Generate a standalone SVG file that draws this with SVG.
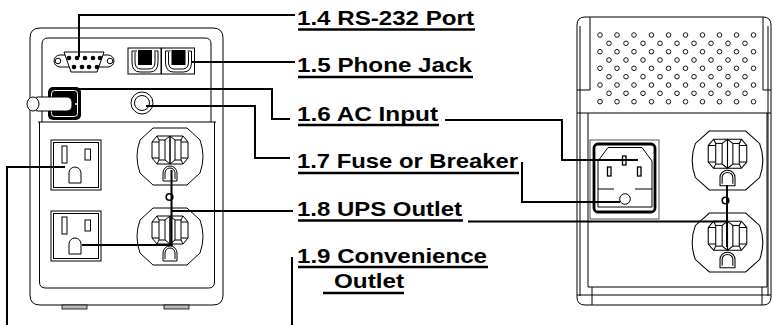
<svg xmlns="http://www.w3.org/2000/svg" xmlns:xlink="http://www.w3.org/1999/xlink" width="773" height="325" viewBox="0 0 773 325">
<style>
.l{fill:none;stroke:#000;stroke-width:1}
.lw{fill:#fff;stroke:#000;stroke-width:1}
.c{fill:none;stroke:#000;stroke-width:2}
.u{stroke:#000;stroke-width:2.5}
.t{font-family:"Liberation Sans",Arial,sans-serif;font-weight:bold;font-size:20px;fill:#000}
.v{fill:none;stroke:#000;stroke-width:0.9}
</style>
<defs>
<g id="duplex">
<path class="lw" d="M-17,0 H17 L30,12 Q36,28.5 30,45 L17,57 H-17 L-30,45 Q-36,28.5 -30,12 Z"/>
<g id="slot">
<path class="l" d="M0,8 H-13 L-18,14 V30 L-13,36 H0 Z"/>
<rect class="l" x="-11" y="12" width="6" height="20"/>
<path class="l" d="M-13,8 L-11,12 M0,8 L-5,12 M-13,36 L-11,32 M0,36 L-5,32 M-18,14 L-11,14 M-18,30 L-11,30"/>
</g>
<use xlink:href="#slot" transform="scale(-1,1)"/>
<path class="l" d="M-7,53 V45 A7,7 0 0 1 7,45 V53 Z M-5,51 V45 A5,5 0 0 1 5,45 V51"/>
</g>
<g id="conv">
<rect class="lw" x="0" y="0" width="50" height="50" stroke-width="1.5"/>
<rect class="l" x="2.5" y="2.5" width="45" height="45"/>
<rect class="l" x="11" y="6" width="5" height="17" stroke-width="1.5"/>
<rect class="l" x="34" y="9" width="5.5" height="11" stroke-width="1.5"/>
<path class="l" stroke-width="1.5" d="M18,43 V33 A6,6 0 0 1 30,33 V43 Z"/>
</g>
<g id="jack">
<rect class="l" x="0" y="0" width="33" height="26" stroke-width="1.2"/>
<rect x="10" y="2" width="14" height="15" fill="#000"/>
<path class="l" d="M4,3 V14 Q4,24 12,24 H22 Q30,24 30,14 V3 H26 M9,3 H4 M7,4 V14 Q7,21 13,21 H21 Q27,21 27,14 V4"/>
</g>
</defs>

<g id="left-unit">
<path class="l" stroke-width="1.2" d="M40,28 H213 Q223,28 223,38 V295 Q223,305 213,305 H40 Q30,305 30,295 V38 Q30,28 40,28 Z"/>
<path class="l" d="M42,122 V44 Q42,38 48,38 H205 Q211,38 211,44 V122"/>
<path class="l" d="M38,122 H216"/>
<path class="l" d="M39.5,122 V282 Q39.5,288 45.5,288 H208.5 Q214.5,288 214.5,282 V122"/>
<rect x="62" y="305" width="25" height="4" fill="#bbb" stroke="#000" stroke-width="0.8"/>
<rect x="164" y="305" width="25" height="4" fill="#bbb" stroke="#000" stroke-width="0.8"/>
</g>

<g id="db9">
<path class="lw" d="M60,55 H108 A6,6 0 0 1 108,67 H60 A6,6 0 0 1 60,55 Z"/>
<circle class="l" cx="58" cy="61" r="2.8"/>
<circle class="l" cx="110" cy="61" r="2.8"/>
<path class="lw" d="M64,52 H104 L97,72 H71 Z"/>
<g fill="#000">
<circle cx="69" cy="58" r="2.3"/><circle cx="77" cy="58" r="2.3"/><circle cx="85" cy="58" r="2.3"/><circle cx="93" cy="58" r="2.3"/><circle cx="100" cy="58" r="2.3"/>
<circle cx="74" cy="67" r="2.3"/><circle cx="82" cy="67" r="2.3"/><circle cx="89" cy="67" r="2.3"/><circle cx="97" cy="67" r="2.3"/>
</g>
</g>

<g id="phone-jacks">
<use xlink:href="#jack" transform="translate(128,48)"/>
<use xlink:href="#jack" transform="translate(161.5,48)"/>
</g>

<g id="ac-input-left">
<rect x="48" y="87" width="33" height="33" rx="5" fill="#000"/>
<rect x="51.5" y="90.5" width="26" height="26" rx="3" fill="none" stroke="#fff" stroke-width="1"/>
<rect class="lw" x="33" y="97" width="39" height="14" rx="5" stroke-width="1.2"/>
<ellipse class="lw" cx="33" cy="104" rx="6" ry="7" stroke-width="1.2"/>
<path d="M75,104 H78" stroke="#fff" stroke-width="1.5"/>
</g>

<g id="fuse-left">
<circle class="lw" cx="142" cy="103" r="11" stroke-width="1.8"/>
<circle class="l" cx="142" cy="103" r="7.5" stroke-width="1.2"/>
</g>

<g id="conv-outlets">
<use xlink:href="#conv" transform="translate(51,140)"/>
<use xlink:href="#conv" transform="translate(51,211)"/>
</g>

<g id="ups-outlets-left">
<use xlink:href="#duplex" transform="translate(170,128)"/>
<use xlink:href="#duplex" transform="translate(170,208)"/>
<circle cx="169.5" cy="197" r="3.3" fill="#fff" stroke="#000" stroke-width="1.6"/>
</g>

<g id="right-unit">
<path class="l" stroke-width="1.2" d="M585,17 H763 Q771,17 771,25 V297 Q771,305 763,305 H585 Q577,305 577,297 V25 Q577,17 585,17 Z"/>
<path class="l" d="M580,26 V296 M768,26 V296"/>
<path class="l" d="M590,17 V90 H577 M763,17 V90 H771"/>
<path class="l" d="M577,113 H771"/>
<path class="l" d="M588,113 V287 H767 V113"/>
<path class="l" d="M577,295 H771 M592,287 V305 M762,287 V305"/>
<g class="v">
<circle cx="600" cy="35" r="2.3"/><circle cx="617" cy="35" r="2.3"/><circle cx="634" cy="35" r="2.3"/><circle cx="651.5" cy="35" r="2.3"/><circle cx="668.5" cy="35" r="2.3"/><circle cx="685.5" cy="35" r="2.3"/><circle cx="702.5" cy="35" r="2.3"/><circle cx="719.5" cy="35" r="2.3"/><circle cx="736.5" cy="35" r="2.3"/><circle cx="753.5" cy="35" r="2.3"/>
<circle cx="609" cy="43.3" r="2.3"/><circle cx="626" cy="43.3" r="2.3"/><circle cx="643" cy="43.3" r="2.3"/><circle cx="660" cy="43.3" r="2.3"/><circle cx="677" cy="43.3" r="2.3"/><circle cx="694" cy="43.3" r="2.3"/><circle cx="711" cy="43.3" r="2.3"/><circle cx="728" cy="43.3" r="2.3"/><circle cx="745" cy="43.3" r="2.3"/>
<circle cx="600" cy="51.7" r="2.3"/><circle cx="617" cy="51.7" r="2.3"/><circle cx="634" cy="51.7" r="2.3"/><circle cx="651.5" cy="51.7" r="2.3"/><circle cx="668.5" cy="51.7" r="2.3"/><circle cx="685.5" cy="51.7" r="2.3"/><circle cx="702.5" cy="51.7" r="2.3"/><circle cx="719.5" cy="51.7" r="2.3"/><circle cx="736.5" cy="51.7" r="2.3"/><circle cx="753.5" cy="51.7" r="2.3"/>
<circle cx="609" cy="60" r="2.3"/><circle cx="626" cy="60" r="2.3"/><circle cx="643" cy="60" r="2.3"/><circle cx="660" cy="60" r="2.3"/><circle cx="677" cy="60" r="2.3"/><circle cx="694" cy="60" r="2.3"/><circle cx="711" cy="60" r="2.3"/><circle cx="728" cy="60" r="2.3"/><circle cx="745" cy="60" r="2.3"/>
<circle cx="600" cy="68.3" r="2.3"/><circle cx="617" cy="68.3" r="2.3"/><circle cx="634" cy="68.3" r="2.3"/><circle cx="651.5" cy="68.3" r="2.3"/><circle cx="668.5" cy="68.3" r="2.3"/><circle cx="685.5" cy="68.3" r="2.3"/><circle cx="702.5" cy="68.3" r="2.3"/><circle cx="719.5" cy="68.3" r="2.3"/><circle cx="736.5" cy="68.3" r="2.3"/><circle cx="753.5" cy="68.3" r="2.3"/>
<circle cx="609" cy="76.7" r="2.3"/><circle cx="626" cy="76.7" r="2.3"/><circle cx="643" cy="76.7" r="2.3"/><circle cx="660" cy="76.7" r="2.3"/><circle cx="677" cy="76.7" r="2.3"/><circle cx="694" cy="76.7" r="2.3"/><circle cx="711" cy="76.7" r="2.3"/><circle cx="728" cy="76.7" r="2.3"/><circle cx="745" cy="76.7" r="2.3"/>
<circle cx="600" cy="85" r="2.3"/><circle cx="617" cy="85" r="2.3"/><circle cx="634" cy="85" r="2.3"/><circle cx="651.5" cy="85" r="2.3"/><circle cx="668.5" cy="85" r="2.3"/><circle cx="685.5" cy="85" r="2.3"/><circle cx="702.5" cy="85" r="2.3"/><circle cx="719.5" cy="85" r="2.3"/><circle cx="736.5" cy="85" r="2.3"/><circle cx="753.5" cy="85" r="2.3"/>
<circle cx="609" cy="93.3" r="2.3"/><circle cx="626" cy="93.3" r="2.3"/><circle cx="643" cy="93.3" r="2.3"/><circle cx="660" cy="93.3" r="2.3"/><circle cx="677" cy="93.3" r="2.3"/><circle cx="694" cy="93.3" r="2.3"/><circle cx="711" cy="93.3" r="2.3"/><circle cx="728" cy="93.3" r="2.3"/><circle cx="745" cy="93.3" r="2.3"/>
<circle cx="600" cy="101.7" r="2.3"/><circle cx="617" cy="101.7" r="2.3"/><circle cx="634" cy="101.7" r="2.3"/><circle cx="651.5" cy="101.7" r="2.3"/><circle cx="668.5" cy="101.7" r="2.3"/><circle cx="685.5" cy="101.7" r="2.3"/><circle cx="702.5" cy="101.7" r="2.3"/><circle cx="719.5" cy="101.7" r="2.3"/><circle cx="736.5" cy="101.7" r="2.3"/><circle cx="753.5" cy="101.7" r="2.3"/>
</g>
</g>

<g id="ac-inlet-right">
<rect x="590" y="140" width="69" height="79" fill="#fff" stroke="#555" stroke-width="1"/>
<rect x="594" y="144" width="61" height="68" rx="4" fill="none" stroke="#000" stroke-width="2.8"/>
<path class="l" d="M614,189 H598 V161 L608,147.5 H642 L652,161 V189 H635"/>
<path class="l" d="M598,189 V207 H652 V189"/>
<rect x="622.5" y="156" width="3.5" height="9" fill="none" stroke="#000" stroke-width="1.3"/>
<rect x="607.5" y="167" width="3.5" height="9" fill="none" stroke="#000" stroke-width="1.3"/>
<rect x="637.5" y="167" width="3.5" height="9" fill="none" stroke="#000" stroke-width="1.3"/>
<circle class="l" cx="625" cy="199" r="5.3"/>
</g>

<g id="ups-outlets-right">
<use xlink:href="#duplex" transform="translate(727.5,131) scale(1.07,1.035)"/>
<use xlink:href="#duplex" transform="translate(727.5,213) scale(1.07,1.035)"/>
<circle cx="725.5" cy="200.5" r="3.3" fill="#fff" stroke="#000" stroke-width="1.6"/>
</g>

<g id="connectors">
<path class="c" d="M79,57 V15 H295"/>
<path class="c" d="M192,62 H295"/>
<path class="c" d="M79,89 H272 V119 H290"/>
<path class="c" d="M445,120 H562 V160 H638"/>
<path class="c" d="M146,106 H255 V158 H290"/>
<path class="c" d="M522,162 V202 H620"/>
<path class="c" d="M172,211 H293"/>
<path class="c" d="M171.5,170 V246"/>
<path class="c" d="M82,245 H172.5"/>
<path class="c" d="M468,221.5 H727"/>
<path class="c" d="M727,185 V247"/>
<path class="c" d="M292,257 V325"/>
<path class="c" d="M65,167 H7 V325"/>
</g>

<g id="labels">
<text class="t" x="297" y="25" textLength="177" lengthAdjust="spacingAndGlyphs">1.4 RS-232 Port</text>
<path class="u" d="M298,29.5 H475"/>
<text class="t" x="297" y="72" textLength="175" lengthAdjust="spacingAndGlyphs">1.5 Phone Jack</text>
<path class="u" d="M298,77 H473"/>
<text class="t" x="297" y="121" textLength="141" lengthAdjust="spacingAndGlyphs">1.6 AC Input</text>
<path class="u" d="M298,125 H439"/>
<text class="t" x="297" y="168" textLength="221" lengthAdjust="spacingAndGlyphs">1.7 Fuse or Breaker</text>
<path class="u" d="M298,173 H519"/>
<text class="t" x="297" y="215.5" textLength="165" lengthAdjust="spacingAndGlyphs">1.8 UPS Outlet</text>
<path class="u" d="M298,220.5 H463"/>
<text class="t" x="297" y="263" textLength="190" lengthAdjust="spacingAndGlyphs">1.9 Convenience</text>
<path class="u" d="M298,267 H488"/>
<text class="t" x="334" y="288" textLength="70" lengthAdjust="spacingAndGlyphs">Outlet</text>
<path class="u" d="M323,293 H404"/>
</g>
</svg>
